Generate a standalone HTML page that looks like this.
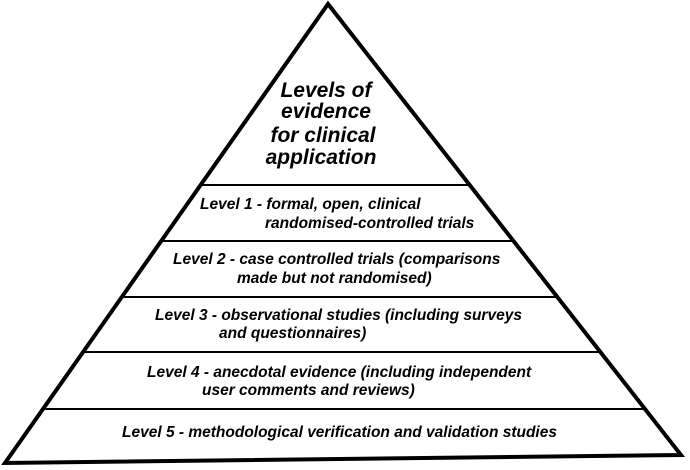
<!DOCTYPE html>
<html><head><meta charset="utf-8"><style>
html,body{margin:0;padding:0;background:#fff;}
svg{display:block;}
text{font-family:"Liberation Sans",Arial,sans-serif;font-weight:bold;font-style:italic;fill:#000;}
.t{font-size:21px;}
.l{font-size:15.5px;}
</style></head><body>
<svg width="690" height="470" viewBox="0 0 690 470" xmlns="http://www.w3.org/2000/svg">
<polygon points="328,4 681,455 5,463" fill="#fff" stroke="#000" stroke-width="4" stroke-linejoin="miter"/>
<g stroke="#000" stroke-width="2">
<line x1="200" y1="185" x2="469" y2="185"/>
<line x1="161" y1="241" x2="513" y2="241"/>
<line x1="122" y1="297" x2="557" y2="297"/>
<line x1="84" y1="352" x2="600" y2="352"/>
<line x1="44" y1="409" x2="644" y2="409"/>
</g>
<g text-anchor="middle">
<text x="326" y="97" class="t">Levels of</text>
<text x="326" y="118" class="t">evidence</text>
<text x="323" y="142" class="t">for clinical</text>
<text x="321" y="164" class="t">application</text>
</g>
<text class="l" x="200" y="209">Level 1 - formal, open, clinical</text>
<text class="l" x="265" y="228">randomised-controlled trials</text>
<text class="l" x="173" y="264">Level 2 - case controlled trials (comparisons</text>
<text class="l" x="237" y="283">made but not randomised)</text>
<text class="l" x="155" y="320">Level 3 - observational studies (including surveys</text>
<text class="l" x="219" y="338">and questionnaires)</text>
<text class="l" x="147" y="377">Level 4 - anecdotal evidence (including independent</text>
<text class="l" x="202" y="395">user comments and reviews)</text>
<text class="l" x="122" y="437" textLength="435" lengthAdjust="spacingAndGlyphs">Level 5 - methodological verification and validation studies</text>
</svg>
</body></html>
